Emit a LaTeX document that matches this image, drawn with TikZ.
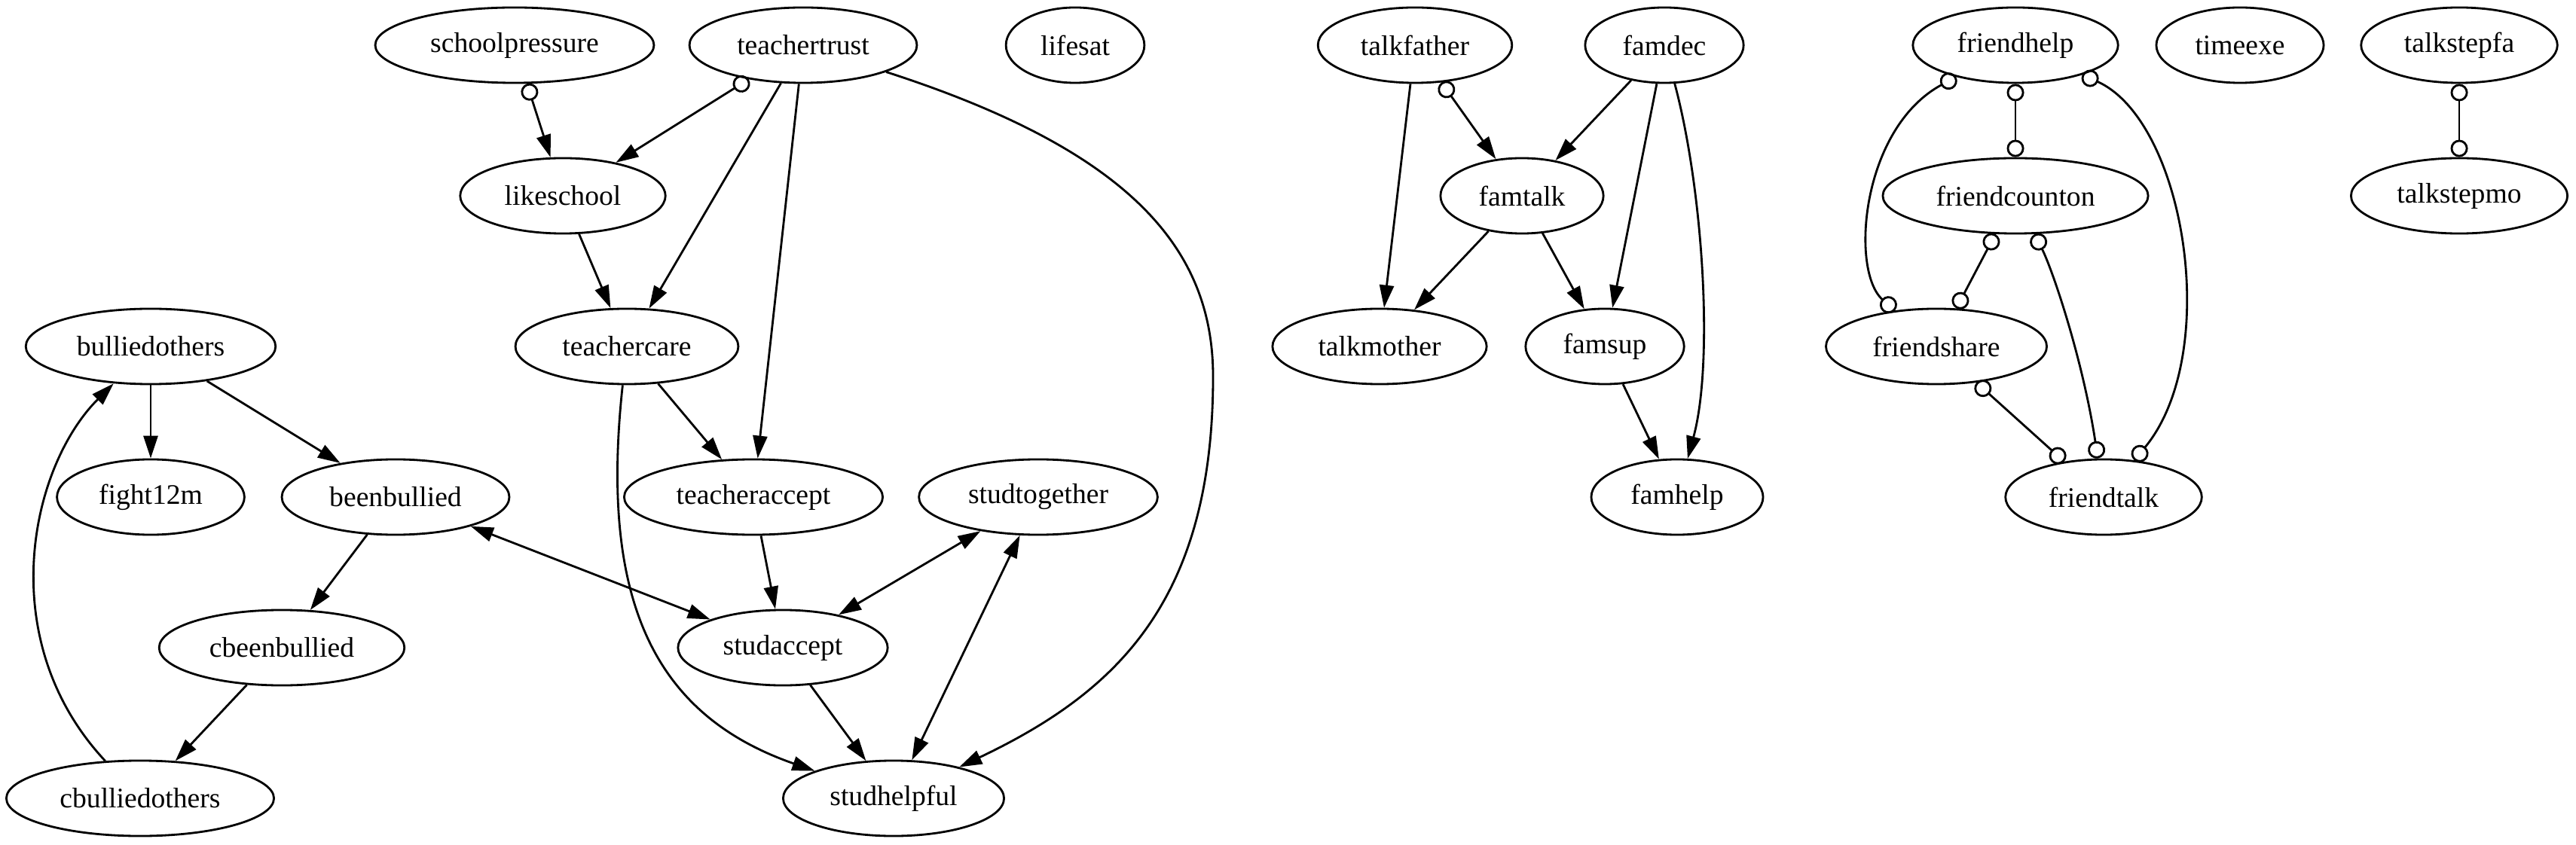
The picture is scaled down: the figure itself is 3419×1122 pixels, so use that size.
\documentclass[tikz,border=0pt]{standalone}
\usepackage{fontspec}
\setmainfont{Liberation Serif}
\usetikzlibrary{arrows.meta,shapes.geometric}

\tikzset{
  var/.style={draw, ellipse, line width=0.8pt, minimum height=1cm,
    inner xsep=5.4pt, inner ysep=0pt, font=\fontsize{10.7}{12}\selectfont},
  link/.style={line width=0.8pt},
  dir/.style={link, -{Triangle[length=0.3cm,width=0.19cm]}},
  bidir/.style={link, {Triangle[length=0.3cm,width=0.19cm]}-{Triangle[length=0.3cm,width=0.19cm]}},
  cdir/.style={link, {Circle[open,length=0.23cm]}-{Triangle[length=0.3cm,width=0.19cm]}},
  cc/.style={link, {Circle[open,length=0.23cm]}-{Circle[open,length=0.23cm]}}
}

\begin{document}
\begin{tikzpicture}[x=0.01cm, y=-0.01cm]

	\useasboundingbox (0,0) rectangle (3419,1122);

	% school / bullying block
	\node[var] (schoolpressure) at (683,60) {schoolpressure};
	\node[var] (teachertrust) at (1066,60) {teachertrust};
	\node[var] (lifesat) at (1427,60) {lifesat};
	\node[var] (likeschool) at (747,260) {likeschool};
	\node[var] (bulliedothers) at (200,460) {bulliedothers};
	\node[var] (teachercare) at (832,460) {teachercare};
	\node[var] (fight12m) at (200,660) {fight12m};
	\node[var] (beenbullied) at (525,660) {beenbullied};
	\node[var] (teacheraccept) at (1000,660) {teacheraccept};
	\node[var] (studtogether) at (1378,660) {studtogether};
	\node[var] (cbeenbullied) at (374,860) {cbeenbullied};
	\node[var] (studaccept) at (1039,860) {studaccept};
	\node[var] (cbulliedothers) at (186,1060) {cbulliedothers};
	\node[var] (studhelpful) at (1186,1060) {studhelpful};

	% family block
	\node[var] (talkfather) at (1878,60) {talkfather};
	\node[var] (famdec) at (2209,60) {famdec};
	\node[var] (famtalk) at (2020,260) {famtalk};
	\node[var] (talkmother) at (1831,460) {talkmother};
	\node[var] (famsup) at (2130,460) {famsup};
	\node[var] (famhelp) at (2226,660) {famhelp};

	% friends block
	\node[var] (friendhelp) at (2675,60) {friendhelp};
	\node[var] (timeexe) at (2973,60) {timeexe};
	\node[var] (talkstepfa) at (3264,60) {talkstepfa};
	\node[var] (friendcounton) at (2675,260) {friendcounton};
	\node[var] (talkstepmo) at (3264,260) {talkstepmo};
	\node[var] (friendshare) at (2570,460) {friendshare};
	\node[var] (friendtalk) at (2792,660) {friendtalk};

	\coordinate (bendR) at (1610,500);

	\draw[cdir] (schoolpressure) -- (likeschool);
	\draw[cdir] (teachertrust) -- (likeschool);
	\draw[dir] (teachertrust) -- (teachercare);
	\draw[dir] (teachertrust) -- (teacheraccept);
	\draw[dir] (teachertrust) .. controls (1500,200) and (1610,330) .. (bendR)
		.. controls (1610,800) and (1480,920) .. (studhelpful);
	\draw[dir] (likeschool) -- (teachercare);
	\draw[dir] (teachercare) -- (teacheraccept);
	\draw[dir] (teachercare) .. controls (795,800) and (870,950) .. (studhelpful);
	\draw[dir] (bulliedothers) -- (fight12m);
	\draw[dir] (bulliedothers) -- (beenbullied);
	\draw[dir] (cbulliedothers) .. controls (-10,850) and (40,620) .. (bulliedothers);
	\draw[dir] (beenbullied) -- (cbeenbullied);
	\draw[dir] (cbeenbullied) -- (cbulliedothers);
	\draw[bidir] (beenbullied) -- (studaccept);
	\draw[dir] (teacheraccept) -- (studaccept);
	\draw[bidir] (studtogether) -- (studaccept);
	\draw[dir] (studaccept) -- (studhelpful);
	\draw[bidir] (studhelpful) -- (studtogether);

	\draw[dir] (talkfather) -- (talkmother);
	\draw[cdir] (talkfather) -- (famtalk);
	\draw[dir] (famdec) -- (famtalk);
	\draw[dir] (famdec) -- (famsup);
	\draw[dir] (famdec) .. controls (2260,250) and (2275,480) .. (famhelp);
	\draw[dir] (famtalk) -- (talkmother);
	\draw[dir] (famtalk) -- (famsup);
	\draw[dir] (famsup) -- (famhelp);

	\draw[cc] (friendhelp) -- (friendcounton);
	\draw[cc] (friendhelp) .. controls (2470,170) and (2455,360) .. (friendshare);
	\draw[cc] (friendhelp) .. controls (2900,160) and (2950,470) .. (friendtalk);
	\draw[cc] (friendcounton) -- (friendshare);
	\draw[cc] (friendcounton) .. controls (2725,360) and (2765,480) .. (friendtalk);
	\draw[cc] (friendshare) -- (friendtalk);
	\draw[cc] (talkstepfa) -- (talkstepmo);

\end{tikzpicture}
\end{document}
